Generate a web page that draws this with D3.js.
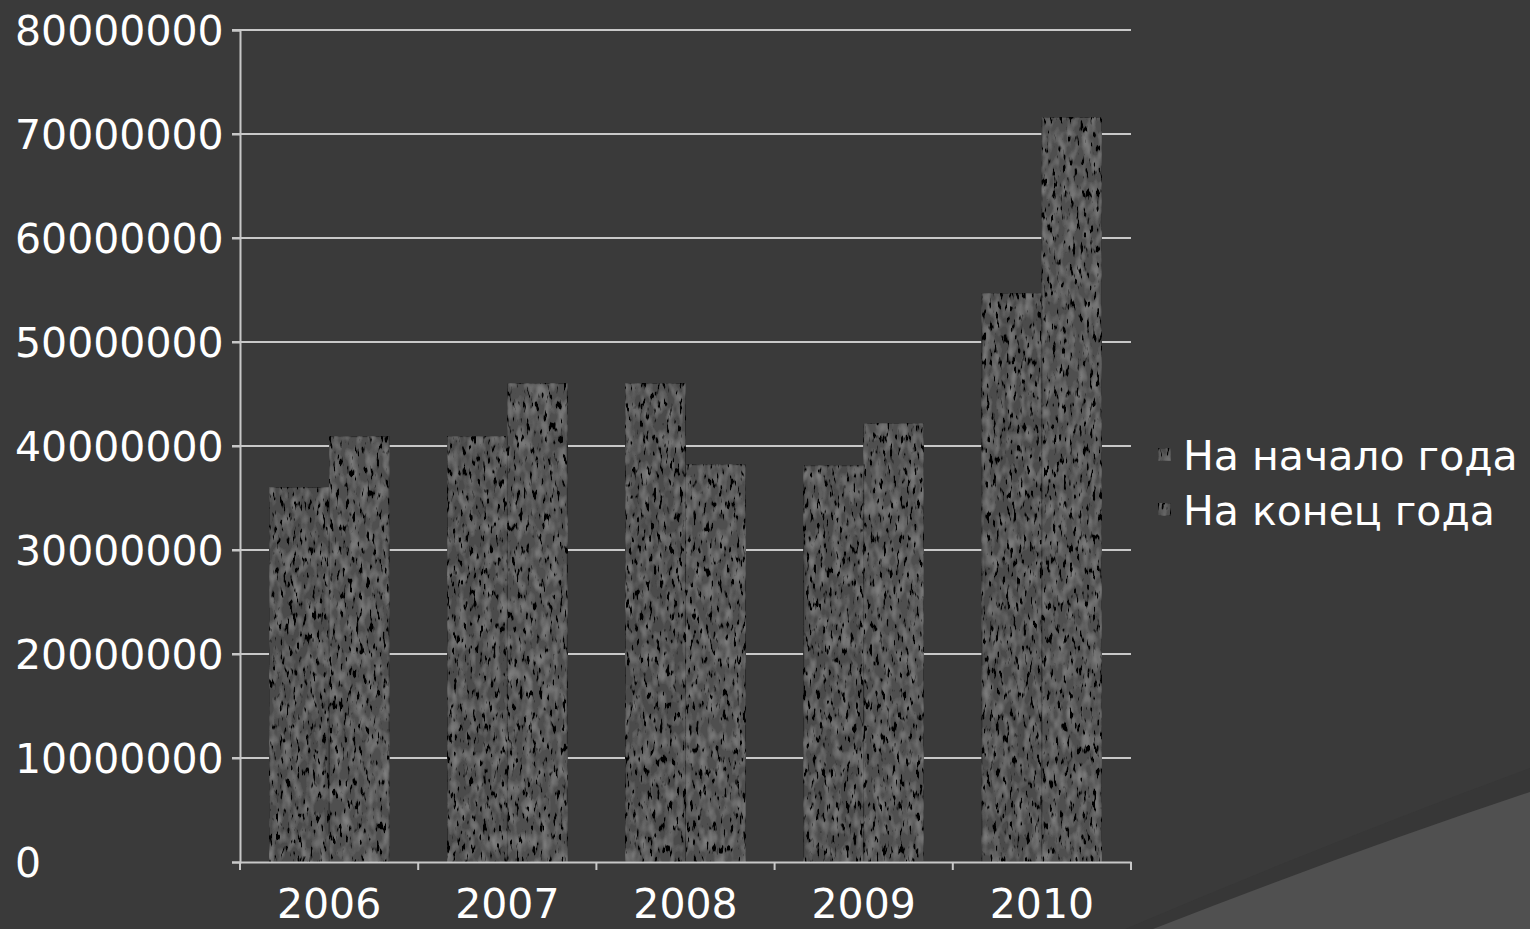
<!DOCTYPE html>
<html><head><meta charset="utf-8">
<script src="https://cdn.jsdelivr.net/npm/d3@7/dist/d3.min.js"></script>
<style>html,body{margin:0;padding:0;background:#3a3a3a;overflow:hidden}</style>
</head><body>
<svg id="c" width="1530" height="929"></svg>
<script>
const years = ["2006","2007","2008","2009","2010"];
const seriesNames = ["На начало года","На конец года"];
const startOfYear = [36000000, 40900000, 46000000, 38100000, 54700000];
const endOfYear = [40900000, 46000000, 38200000, 42200000, 71600000];
const yTicks = [0,10000000,20000000,30000000,40000000,50000000,60000000,70000000,80000000];

(function(){
const svg = d3.select("#c");
const W = 1530, H = 929;
const defs = svg.append("defs");

// background
svg.append("rect").attr("width",W).attr("height",H).attr("fill","#3a3a3a");
svg.append("path").attr("d","M1125,929 Q1335,840 1530,768 L1530,929 Z").attr("fill","#333333").attr("opacity",0.5);
svg.append("path").attr("d","M1153,929 Q1350,852 1530,792 L1530,929 Z").attr("fill","#505050");

// texture filter
const f = defs.append("filter").attr("id","tex").attr("x",0).attr("y",0).attr("width",1).attr("height",1);
f.append("feTurbulence").attr("type","fractalNoise").attr("baseFrequency","0.3 0.09").attr("numOctaves",2).attr("seed",7).attr("result","n");
f.append("feColorMatrix").attr("in","n").attr("type","matrix")
  .attr("values","0 0 0 0 0  0 0 0 0 0  0 0 0 0 0  -9 0 0 0 3.7").attr("result","spots");
f.append("feComposite").attr("in","spots").attr("in2","SourceGraphic").attr("operator","in").attr("result","s2");
f.append("feTurbulence").attr("type","fractalNoise").attr("baseFrequency","0.12 0.06").attr("numOctaves",2).attr("seed",11).attr("result","n2");
f.append("feColorMatrix").attr("in","n2").attr("type","matrix")
  .attr("values","0 0 0 0 0.55  0 0 0 0 0.55  0 0 0 0 0.55  0 0.6 0 0 -0.24").attr("result","light");
f.append("feComposite").attr("in","light").attr("in2","SourceGraphic").attr("operator","in").attr("result","l2");
const fm = f.append("feMerge");
fm.append("feMergeNode").attr("in","SourceGraphic");
fm.append("feMergeNode").attr("in","l2");
fm.append("feMergeNode").attr("in","s2");

const pLeft = 240, pRight = 1131, pTop = 30, pBottom = 862;
const y = d3.scaleLinear().domain([0,80000000]).range([pBottom, pTop]);
const x0 = d3.scaleBand().domain(years).range([pLeft,pRight]).padding(0);
const x1 = d3.scaleBand().domain(seriesNames).range([0,x0.bandwidth()]).paddingInner(0).paddingOuter(0.485);

const font = "'DejaVu Sans', sans-serif";

// gridlines
svg.append("g").selectAll("line").data(yTicks.filter(d=>d>0)).join("line")
  .attr("x1",232).attr("x2",pRight).attr("y1",d=>y(d)).attr("y2",d=>y(d))
  .attr("stroke","#c8c8c8").attr("stroke-width",2);

// bars
const data = years.map((yr,i)=>({year:yr, vals:[startOfYear[i], endOfYear[i]]}));
const g = svg.append("g");
data.forEach(d=>{
  d.vals.forEach((v,j)=>{
    g.append("rect")
      .attr("x", x0(d.year)+x1(seriesNames[j]))
      .attr("y", y(v))
      .attr("width", x1.bandwidth())
      .attr("height", pBottom - y(v))
      .attr("fill", j===0 ? "#4c4c4c" : "#4f4f4f")
      .attr("stroke","#2a2a2a").attr("stroke-width",1)
      .attr("filter","url(#tex)");
  });
});

// y axis
const yAxis = d3.axisLeft(y).tickValues(yTicks).tickSize(8).tickFormat(d3.format("d"));
const ya = svg.append("g").attr("transform",`translate(${pLeft},0)`).call(yAxis);
ya.select(".domain").attr("stroke","#c8c8c8").attr("stroke-width",2);
ya.selectAll(".tick line").attr("stroke","#c8c8c8").attr("stroke-width",2);
ya.selectAll(".tick text").attr("x",15-pLeft).attr("text-anchor","start")
  .attr("fill","#ffffff").attr("font-family",font).attr("font-size",41).attr("dy","0.36em");

// x axis
const xAxis = d3.axisBottom(x0).tickSize(0);
const xa = svg.append("g").attr("transform",`translate(0,${pBottom})`).call(xAxis);
xa.select(".domain").attr("stroke","#c8c8c8").attr("stroke-width",2);
xa.selectAll(".tick text").attr("fill","#ffffff").attr("font-family",font).attr("font-size",41).attr("dy","0").attr("y",56);
xa.selectAll(".bnd").data(d3.range(years.length+1)).join("line")
  .attr("x1",i=>pLeft+i*x0.step()).attr("x2",i=>pLeft+i*x0.step()).attr("y1",0).attr("y2",8)
  .attr("stroke","#c8c8c8").attr("stroke-width",2);

// legend
const lg = svg.append("g");
seriesNames.forEach((s,i)=>{
  const ly = 455 + i*55;
  lg.append("rect").attr("x",1158).attr("y",ly-7).attr("width",13).attr("height",13)
    .attr("fill",i===0?"#4c4c4c":"#4f4f4f").attr("stroke","#2a2a2a").attr("filter","url(#tex)");
  lg.append("text").attr("x",1183).attr("y",ly).attr("dy","0.36em")
    .attr("fill","#ffffff").attr("font-family",font).attr("font-size",41).text(s);
});
})();
</script>
</body></html>
